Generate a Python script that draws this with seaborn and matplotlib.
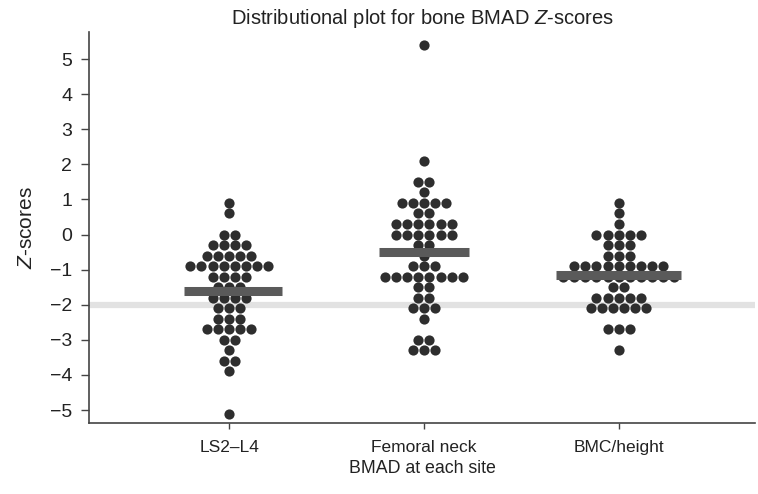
import numpy as np
import pandas as pd
import matplotlib
matplotlib.use("Agg")
import matplotlib.pyplot as plt
import seaborn as sns

# ---- data ----
categories = ["LS2\u2013L4", "Femoral neck", "BMC/height"]

ls_levels = [0.9, 0.6, 0.0, -0.3, -0.6, -0.9, -1.2, -1.5, -1.8, -2.1, -2.4, -2.7, -3.0, -3.3, -3.6, -3.9, -5.1]
ls_counts = [1, 1, 2, 4, 5, 8, 4, 3, 4, 3, 3, 5, 2, 1, 2, 1, 1]

fn_levels = [5.4, 2.1, 1.5, 1.2, 0.9, 0.6, 0.3, 0.0, -0.3, -0.6, -0.9, -1.2, -1.5, -1.8, -2.1, -2.4, -3.0, -3.3]
fn_counts = [1, 1, 2, 1, 5, 2, 6, 6, 2, 1, 3, 8, 2, 2, 3, 1, 2, 3]

bmc_levels = [0.9, 0.6, 0.3, 0.0, -0.3, -0.6, -0.9, -1.2, -1.5, -1.8, -2.1, -2.7, -3.3]
bmc_counts = [1, 1, 1, 5, 3, 3, 9, 11, 2, 5, 6, 3, 1]

medians = [-1.6, -0.5, -1.15]
reference_z = -2.0

yticks = [5, 4, 3, 2, 1, 0, -1, -2, -3, -4, -5]

# ---- build long table; dots of equal value sit side by side, centred ----
DOT_STEP = 0.057   # horizontal spacing between neighbouring dots (style)
rows = []
for i, (cat, lv, ct) in enumerate(zip(categories, [ls_levels, fn_levels, bmc_levels],
                                      [ls_counts, fn_counts, bmc_counts])):
    for v, c in zip(lv, ct):
        offs = (np.arange(c) - (c - 1) / 2) * DOT_STEP
        for o in offs:
            rows.append((cat, i + o, v))
df = pd.DataFrame(rows, columns=["site", "xpos", "z"])

# ---- style ----
sns.set_theme(style="white")
plt.rcParams["font.family"] = ["Liberation Sans", "DejaVu Sans"]
plt.rcParams["mathtext.fontset"] = "custom"
plt.rcParams["mathtext.rm"] = "Liberation Sans"
plt.rcParams["mathtext.it"] = "Liberation Sans:italic"

fig = plt.figure(figsize=(7.58, 4.94), dpi=100)
ax = fig.add_axes([89 / 758, 1 - 423 / 494, (755 - 89) / 758, (423 - 32) / 494])

ax.axhline(reference_z, color="#e2e2e2", lw=4.5, zorder=0)

sns.scatterplot(data=df, x="xpos", y="z", ax=ax, color="#2e2e2e",
                s=54, linewidth=0, zorder=2, legend=False)

bar_half = [0.25, 0.23, 0.32]
bar_off = [0.02, 0.0, 0.0]
for i, (m, hw, off) in enumerate(zip(medians, bar_half, bar_off)):
    ax.plot([i + off - hw, i + off + hw], [m, m], color="#5a5a5a", lw=6.5,
            solid_capstyle="butt", zorder=3)

ax.set_xlim(-0.72, 2.70)
ax.set_ylim(-5.37, 5.77)
ax.set_xticks(range(len(categories)))
ax.set_xticklabels(categories)
ax.set_yticks(yticks)
ax.set_yticklabels([str(t).replace("-", "\u2212") for t in yticks])

for s in ["top", "right"]:
    ax.spines[s].set_visible(False)
for s in ["left", "bottom"]:
    ax.spines[s].set_color("#444444")
    ax.spines[s].set_linewidth(1.2)

ax.tick_params(axis="y", which="both", left=True, length=6, width=1.0,
               color="#444444", labelsize=14, labelcolor="#222222", pad=6)
ax.tick_params(axis="x", which="both", bottom=True, length=4, width=1.0,
               color="#444444", labelsize=12.5, labelcolor="#222222", pad=8)

ax.set_xlabel("BMAD at each site", fontsize=12.8, color="#222222", labelpad=4)
ax.set_ylabel("$Z$-scores", fontsize=15, color="#222222", labelpad=10)
ax.set_title("Distributional plot for bone BMAD $Z$-scores", fontsize=14.5,
             color="#222222", pad=6)

fig.savefig("out.png", dpi=100)
